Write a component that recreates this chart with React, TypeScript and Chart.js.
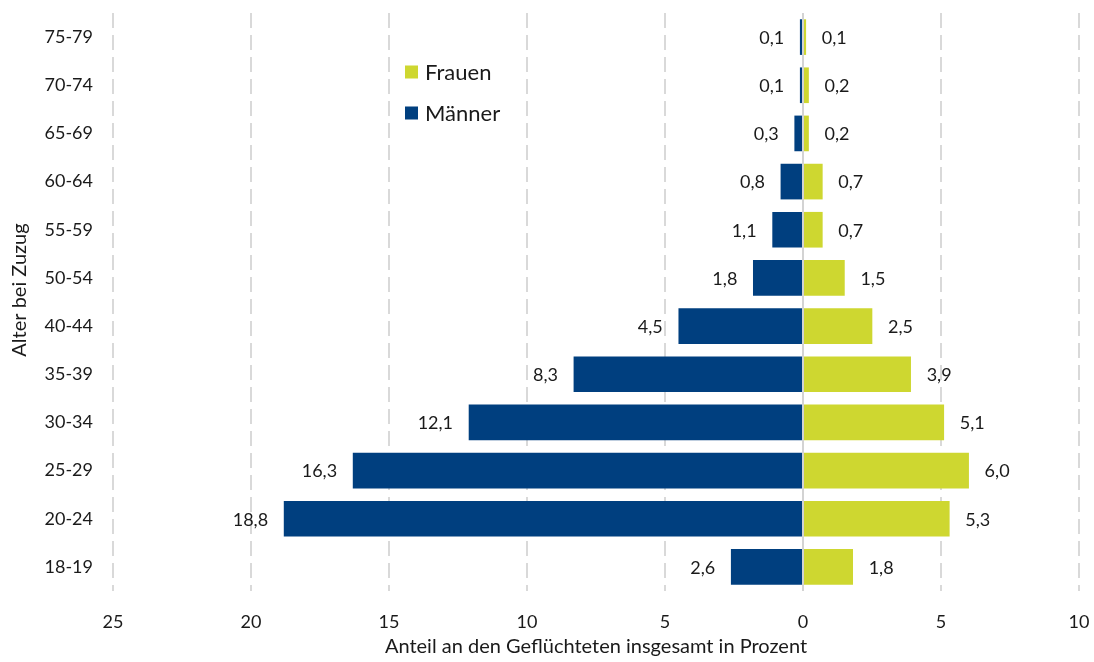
import { useEffect, useRef } from "react";
import { Chart, registerables } from "chart.js";
Chart.register(...registerables);

const categories = ["75-79", "70-74", "65-69", "60-64", "55-59", "50-54", "40-44", "35-39", "30-34", "25-29", "20-24", "18-19"];
const maenner = [0.1, 0.1, 0.3, 0.8, 1.1, 1.8, 4.5, 8.3, 12.1, 16.3, 18.8, 2.6];
const frauen = [0.1, 0.2, 0.2, 0.7, 0.7, 1.5, 2.5, 3.9, 5.1, 6.0, 5.3, 1.8];
const xMin = -25;
const xMax = 10;
const xStep = 5;

const BLUE = "#003F7F";
const GREEN = "#CED730";
const TEXT = "#1a1a1a";
const FONT = "Lato";

const fmt = (v: number) => Math.abs(v).toFixed(1).replace(".", ",");

const labelPlugin = {
  id: "barLabels",
  afterDatasetsDraw(chart: any) {
    const { ctx, chartArea, scales } = chart;
    ctx.save();
    // zero line on top of bars
    const x0 = scales.x.getPixelForValue(0);
    ctx.strokeStyle = "#d3d3d3";
    ctx.lineWidth = 2;
    ctx.beginPath();
    ctx.moveTo(x0, chartArea.top);
    ctx.lineTo(x0, chartArea.bottom);
    ctx.stroke();

    ctx.font = `18px ${FONT}`;
    ctx.fillStyle = TEXT;
    ctx.textBaseline = "middle";
    chart.data.datasets.forEach((ds: any, di: number) => {
      const meta = chart.getDatasetMeta(di);
      meta.data.forEach((el: any, i: number) => {
        const v = ds.data[i];
        if (v < 0) {
          ctx.textAlign = "right";
          ctx.fillText(fmt(v), el.x - 16, el.y + 1);
        } else {
          ctx.textAlign = "left";
          ctx.fillText(fmt(v), el.x + 16, el.y + 1);
        }
      });
    });

    // legend inside chart
    const items = [
      { label: "Frauen", color: GREEN, y: 72 },
      { label: "Männer", color: BLUE, y: 113 },
    ];
    ctx.font = `22px ${FONT}`;
    ctx.textAlign = "left";
    items.forEach((it) => {
      ctx.fillStyle = it.color;
      ctx.fillRect(405, it.y - 6.5, 13, 13);
      ctx.fillStyle = TEXT;
      ctx.fillText(it.label, 425, it.y + 1);
    });

    // y-axis title
    ctx.translate(20, 290);
    ctx.rotate(-Math.PI / 2);
    ctx.font = `20px ${FONT}`;
    ctx.textAlign = "center";
    ctx.fillText("Alter bei Zuzug", 0, 0);
    ctx.restore();
  },
};

export default function App() {
  const ref = useRef<HTMLCanvasElement>(null);
  useEffect(() => {
    if (!ref.current) return;
    const chart = new Chart(ref.current, {
      type: "bar",
      data: {
        labels: categories,
        datasets: [
          { label: "Männer", data: maenner.map((v) => -v), backgroundColor: BLUE, barThickness: 35 },
          { label: "Frauen", data: frauen, backgroundColor: GREEN, barThickness: 35 },
        ],
      },
      options: {
        indexAxis: "y",
        animation: false,
        responsive: false,
        devicePixelRatio: 1,
        layout: { padding: { left: 0, right: 15, top: 13, bottom: 0 } },
        plugins: { legend: { display: false }, tooltip: { enabled: false } },
        scales: {
          x: {
            stacked: true,
            min: xMin,
            max: xMax,
            ticks: {
              stepSize: xStep,
              padding: 20,
              color: TEXT,
              font: { family: FONT, size: 18 },
              callback: (v: any) => String(Math.abs(Number(v))),
            },
            grid: {
              drawTicks: false,
              lineWidth: 2,
              color: (c: any) => (c.tick && c.tick.value === 0 ? "rgba(0,0,0,0)" : "#d9d9d9"),
            },
            border: { display: false, dash: [15, 7] },
            title: {
              display: true,
              text: "Anteil an den Geflüchteten insgesamt in Prozent",
              color: TEXT,
              font: { family: FONT, size: 20 },
              padding: { top: 0, bottom: 3 },
            },
            afterFit: (s: any) => {
              s.height = 71;
              s.paddingLeft = 0;
              s.paddingRight = 0;
              s.paddingTop = 0;
              s.paddingBottom = 0;
            },
          },
          y: {
            stacked: true,
            ticks: {
              padding: 20,
              color: TEXT,
              font: { family: FONT, size: 18 },
            },
            grid: { display: false, drawTicks: false },
            border: { display: false },
            title: { display: false },
            afterFit: (s: any) => {
              s.width = 113;
              s.paddingLeft = 0;
              s.paddingRight = 0;
              s.paddingTop = 0;
              s.paddingBottom = 0;
            },
          },
        },
      },
      plugins: [labelPlugin],
    });
    return () => chart.destroy();
  }, []);
  return (
    <div style={{ position: "fixed", left: 0, top: 0, width: 1094, height: 662, background: "#fff" }}>
      <canvas ref={ref} width={1094} height={662} style={{ width: 1094, height: 662 }} />
    </div>
  );
}
